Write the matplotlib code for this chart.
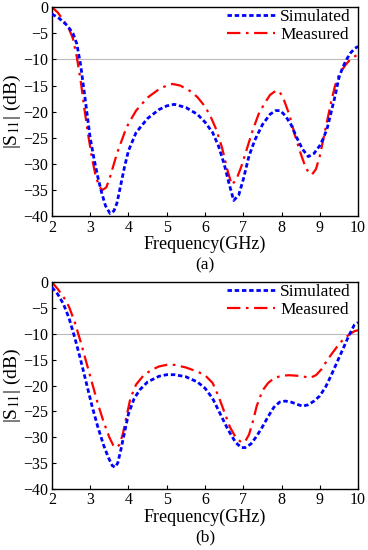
import matplotlib
matplotlib.use('Agg')
import matplotlib.pyplot as plt

plt.rcParams['font.family'] = ['Liberation Serif', 'DejaVu Serif']
plt.rcParams['mathtext.fontset'] = 'stix'

# panel (a)
freq_a_sim = [2.0, 2.2, 2.4, 2.55, 2.65, 2.75, 2.85, 3.0, 3.1, 3.2, 3.3, 3.4, 3.52, 3.62, 3.7, 3.8, 3.9, 4.0,
              4.2, 4.5, 4.8, 5.0, 5.2, 5.5, 5.8, 6.0, 6.2, 6.35, 6.5, 6.62, 6.75, 6.88, 7.0, 7.15, 7.3,
              7.5, 7.7, 7.85, 7.97, 8.1, 8.25, 8.4, 8.55, 8.7, 8.85, 9.0, 9.1, 9.2, 9.3, 9.4, 9.5, 9.6,
              9.7, 9.8, 9.9, 10.0]
s11_a_sim = [-1.3, -2.2, -3.5, -5.0, -7.0, -11.0, -16.5, -25.0, -29.0, -32.5, -35.5, -38.0, -39.5, -39.0, -37.5,
             -34.0, -30.5, -27.5, -24.0, -21.3, -19.6, -18.9, -18.6, -19.2, -20.5, -22.0, -24.0, -26.5, -30.0,
             -33.5, -37.0, -36.0, -33.0, -28.5, -25.5, -22.5, -20.5, -19.8, -19.8, -20.8, -22.5, -25.0,
             -27.2, -28.6, -28.0, -26.5, -25.0, -23.0, -20.0, -17.0, -13.5, -11.5, -10.0, -8.8, -8.0, -7.5]
freq_a_meas = [2.0, 2.15, 2.3, 2.45, 2.55, 2.65, 2.75, 2.85, 2.95, 3.05, 3.15, 3.25, 3.32, 3.42, 3.5, 3.6,
               3.7, 3.8, 3.9, 4.0, 4.2, 4.5, 4.8, 5.0, 5.15, 5.35, 5.6, 5.8, 6.0, 6.15, 6.3, 6.45, 6.58,
               6.7, 6.82, 6.95, 7.1, 7.25, 7.4, 7.55, 7.7, 7.85, 7.95, 8.05, 8.2, 8.35, 8.5, 8.62, 8.72,
               8.8, 8.9, 9.0, 9.1, 9.2, 9.3, 9.4, 9.5, 9.6, 9.7, 9.8, 9.9, 10.0]
s11_a_meas = [0.0, -1.0, -2.5, -4.2, -6.0, -9.5, -14.0, -19.5, -24.5, -29.0, -32.5, -34.5, -35.0, -34.5, -33.0,
              -30.5, -28.0, -26.0, -24.0, -22.3, -19.8, -17.3, -15.7, -15.0, -14.7, -15.0, -16.0, -17.2,
              -19.0, -21.0, -23.5, -27.0, -31.0, -34.0, -33.0, -30.5, -27.0, -23.5, -20.5, -18.5, -16.8,
              -16.0, -16.2, -17.5, -20.5, -24.5, -28.0, -30.5, -31.8, -32.0, -31.0, -28.5, -25.0, -21.5,
              -18.0, -15.0, -13.0, -11.8, -10.8, -10.0, -9.5, -9.0]

# panel (b)
freq_b_sim = [2.0, 2.15, 2.3, 2.45, 2.6, 2.75, 2.9, 3.05, 3.2, 3.35, 3.48, 3.58, 3.65, 3.72, 3.8, 3.9, 4.0,
              4.15, 4.3, 4.5, 4.8, 5.0, 5.2, 5.5, 5.8, 6.0, 6.2, 6.4, 6.6, 6.8, 6.95, 7.05, 7.2, 7.35, 7.5,
              7.65, 7.8, 7.95, 8.1, 8.25, 8.4, 8.55, 8.7, 8.85, 9.0, 9.15, 9.3, 9.45, 9.6, 9.75, 9.9, 10.0]
s11_b_sim = [-1.0, -2.3, -4.2, -7.0, -10.8, -15.0, -19.5, -24.0, -28.0, -31.5, -34.0, -35.5, -35.8, -35.0,
             -32.5, -29.0, -25.5, -22.5, -20.8, -19.3, -18.2, -17.9, -17.9, -18.3, -19.3, -20.5, -22.5,
             -25.5, -28.5, -31.0, -32.0, -32.0, -31.3, -29.8, -28.0, -26.0, -24.2, -23.2, -23.0, -23.2,
             -23.6, -24.0, -23.7, -23.0, -22.0, -20.3, -18.0, -15.5, -13.0, -10.5, -8.3, -7.8]
freq_b_meas = [2.0, 2.15, 2.3, 2.45, 2.6, 2.75, 2.9, 3.05, 3.2, 3.35, 3.5, 3.6, 3.68, 3.76, 3.85, 3.95, 4.05,
               4.2, 4.4, 4.6, 4.8, 5.0, 5.2, 5.5, 5.8, 6.0, 6.2, 6.35, 6.5, 6.65, 6.8, 6.95, 7.05, 7.15,
               7.25, 7.35, 7.5, 7.65, 7.8, 8.0, 8.2, 8.4, 8.6, 8.75, 8.9, 9.05, 9.2, 9.35, 9.5, 9.65, 9.8,
               9.9, 10.0]
s11_b_meas = [0.0, -1.3, -2.8, -4.8, -7.8, -11.5, -15.5, -19.5, -23.5, -27.0, -30.0, -31.5, -32.0, -31.5,
              -29.5, -26.0, -22.5, -19.8, -18.0, -17.0, -16.3, -16.0, -16.0, -16.5, -17.3, -18.0, -19.5,
              -22.0, -25.0, -28.0, -30.0, -31.0, -30.8, -29.5, -27.0, -24.0, -21.0, -19.5, -18.6, -18.1,
              -18.0, -18.1, -18.3, -18.5, -18.0, -16.8, -15.0, -13.5, -12.0, -10.8, -10.0, -9.5, -9.3]

x_ticks = [2, 3, 4, 5, 6, 7, 8, 9, 10]
y_ticks = [0, -5, -10, -15, -20, -25, -30, -35, -40]

fig = plt.figure(figsize=(3.68, 5.5), dpi=100)
ax_a = fig.add_axes([0.141, 0.607, 0.832, 0.380])
ax_b = fig.add_axes([0.141, 0.111, 0.832, 0.376])

panels = [
    (ax_a, freq_a_sim, s11_a_sim, freq_a_meas, s11_a_meas, '(a)'),
    (ax_b, freq_b_sim, s11_b_sim, freq_b_meas, s11_b_meas, '(b)'),
]

for ax, fs, ss, fm, sm, tag in panels:
    ax.axhline(-10, color='#bbbbbb', lw=0.8, zorder=1)
    ax.plot(fs, ss, color='#0000ff', lw=2.0, ls=(0, (1.6, 1.0)), label='Simulated', zorder=3)
    ax.plot(fm, sm, color='#ff0000', lw=1.6, ls=(0, (6, 2.5, 1.2, 2.5)), label='Measured', zorder=2)
    ax.set_xlim(2, 10)
    ax.set_ylim(-40, 0)
    ax.set_xticks(x_ticks)
    ax.set_yticks(y_ticks)
    ax.set_yticklabels(['0', '\u22125', '\u221210', '\u221215', '\u221220', '\u221225', '\u221230', '\u221235', '\u221240'])
    ax.tick_params(direction='in', labelsize=11.5, length=3, width=0.8, pad=2.5)
    for sp in ax.spines.values():
        sp.set_linewidth(1.0)
    ax.set_xlabel('Frequency(GHz)', fontsize=13, labelpad=0)
    ax.set_ylabel('|S$_{11}$| (dB)', fontsize=14, labelpad=0)
    leg = ax.legend(loc='upper right', bbox_to_anchor=(1.0, 1.025), frameon=False, fontsize=12.5,
                    handlelength=2.8, handletextpad=0.3, borderaxespad=0.0, labelspacing=0.1)
    ax.text(0.5, -0.235, tag, transform=ax.transAxes, ha='center', va='center', fontsize=12.5)

fig.savefig('out.png', dpi=100)
